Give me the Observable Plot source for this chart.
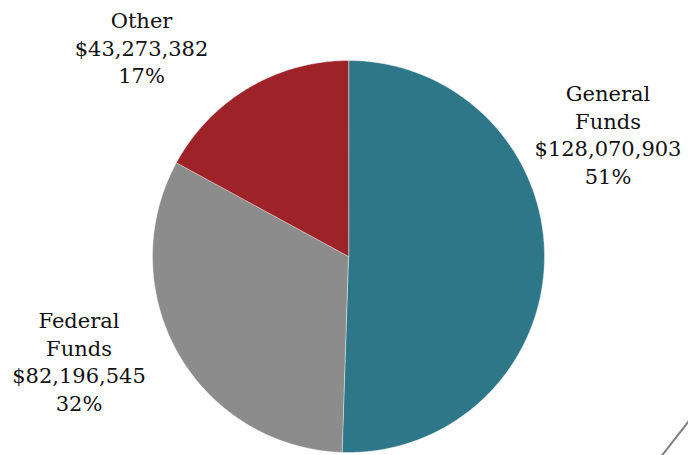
<!DOCTYPE html>
<html>
<head>
<meta charset="utf-8">
<script src="https://cdn.jsdelivr.net/npm/d3@7"></script>
<script src="https://cdn.jsdelivr.net/npm/@observablehq/plot@0.6"></script>
<style>
  html, body { margin: 0; padding: 0; background: #fff; }
  svg { display: block; }
</style>
</head>
<body>
<div id="chart"></div>
<script>
const categories = ["General\nFunds", "Federal\nFunds", "Other"];
const values = [128070903, 82196545, 43273382];
const colors = ["#2e7789", "#8c8c8c", "#9e2328"];

const pie = d3.pie().sort(null)(values);
const total = d3.sum(values);

function slicePolygon(arc) {
  const pts = [[0, 0]];
  const n = Math.max(2, Math.ceil((arc.endAngle - arc.startAngle) / (Math.PI / 360)));
  for (let i = 0; i <= n; i++) {
    const a = arc.startAngle + (arc.endAngle - arc.startAngle) * i / n;
    pts.push([Math.sin(a), Math.cos(a)]);
  }
  pts.push([0, 0]);
  return pts;
}

const slices = pie.map((arc, i) => ({
  type: "Feature",
  properties: {name: categories[i], color: colors[i]},
  geometry: {type: "Polygon", coordinates: [slicePolygon(arc)]}
}));

const circle = {type: "Polygon", coordinates: [d3.range(0, 361, 2).map(d => [Math.cos(d * Math.PI / 180), Math.sin(d * Math.PI / 180)])]};

// label layout (bottom baseline anchor), in pie-radius units
const labelLayout = [[1.324, 0.372], [-1.375, -0.786], [-1.056, 0.883]];
const labels = categories.map((c, i) => ({
  text: `${c}\n$${d3.format(",")(values[i])}\n${Math.round(values[i] / total * 100)}%`,
  x: labelLayout[i][0],
  y: labelLayout[i][1]
}));

const decor = [{x1: 1.58, y1: -1.04, x2: 1.76, y2: -0.81}];

const chart = Plot.plot({
  width: 688,
  height: 455,
  marginLeft: 152,
  marginRight: 144,
  marginTop: 60,
  marginBottom: 3,
  projection: {type: "reflect-y", domain: circle, clip: false},
  style: {fontFamily: "'DejaVu Serif', serif", fontSize: "21px", color: "#111", background: "#fff"},
  marks: [
    Plot.geo(slices, {fill: d => d.properties.color, stroke: "#ffffff", strokeWidth: 0.8, strokeOpacity: 0.5}),
    Plot.text(labels, {x: "x", y: "y", text: "text", lineAnchor: "bottom", lineHeight: 1.31, textAnchor: "middle", fill: "#111", fontSize: 21}),
    Plot.link(decor, {x1: "x1", y1: "y1", x2: "x2", y2: "y2", stroke: "#7f7f7f", strokeWidth: 2})
  ]
});
document.getElementById("chart").appendChild(chart);
</script>
</body>
</html>
